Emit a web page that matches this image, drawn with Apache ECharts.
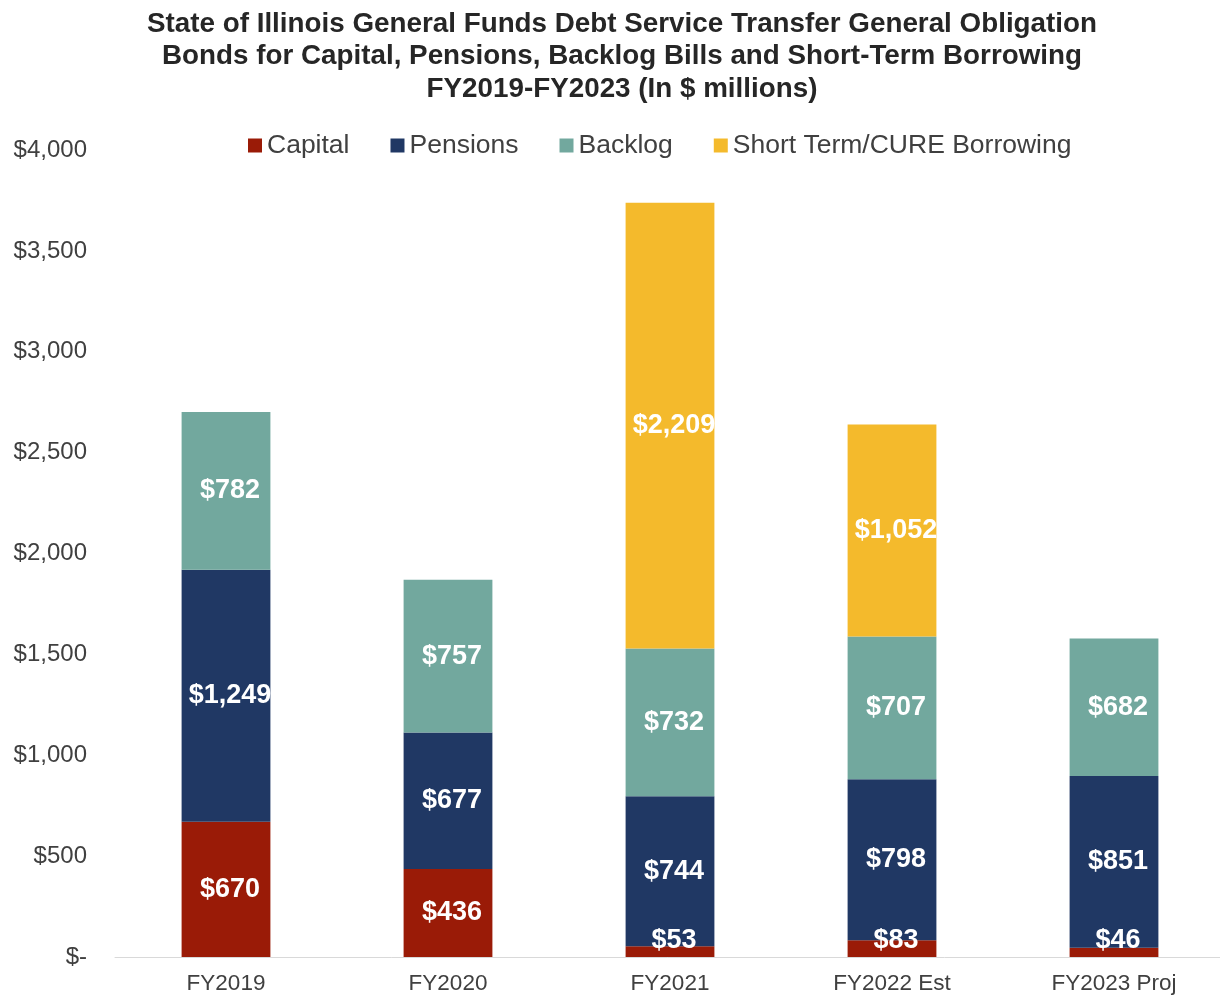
<!DOCTYPE html>
<html>
<head>
<meta charset="utf-8">
<script src="https://cdn.jsdelivr.net/npm/echarts@6/dist/echarts.min.js"></script>
<style>
html,body{margin:0;padding:0;background:#fff;}
#chart{width:1220px;height:996px;}
</style>
</head>
<body>
<div id="chart"></div>
<script>
const categories = ['FY2019', 'FY2020', 'FY2021', 'FY2022 Est', 'FY2023 Proj'];
const capital   = [670, 436, 53, 83, 46];
const pensions  = [1249, 677, 744, 798, 851];
const backlog   = [782, 757, 732, 707, 682];
const shortTerm = [null, null, 2209, 1052, null];
const yTicks = [0, 500, 1000, 1500, 2000, 2500, 3000, 3500, 4000];

const FONT = '"Liberation Sans", Arial, sans-serif';
const fmt = v => '$' + Number(v).toLocaleString('en-US');

function labelCfg(values, small) {
  return values.map(v => {
    if (v == null) return null;
    const item = { value: v };
    if (small && v < 150) {
      item.label = { position: 'insideBottom', distance: 3 };
    }
    return item;
  });
}

const baseLabel = {
  show: true,
  position: 'inside',
  color: '#ffffff',
  fontFamily: FONT,
  fontWeight: 'bold',
  fontSize: 27,
  offset: [4, 0],
  formatter: p => fmt(p.value)
};

const chart = echarts.init(document.getElementById('chart'), null, { renderer: 'canvas' });
chart.setOption({
  animation: false,
  backgroundColor: '#ffffff',
  title: {
    text: 'State of Illinois General Funds Debt Service Transfer General Obligation\nBonds for Capital, Pensions, Backlog Bills and Short-Term Borrowing\nFY2019-FY2023 (In $ millions)',
    left: 617,
    textAlign: 'center',
    top: 3,
    textStyle: {
      fontFamily: FONT,
      fontWeight: 'bold',
      fontSize: 27.8,
      lineHeight: 32.5,
      color: '#262626'
    }
  },
  legend: {
    top: 127,
    left: 243,
    itemWidth: 14,
    itemHeight: 14,
    itemGap: 41,
    icon: 'rect',
    textStyle: { fontFamily: FONT, fontSize: 26.5, color: '#404040' },
    data: ['Capital', 'Pensions', 'Backlog', 'Short Term/CURE Borrowing']
  },
  grid: { left: 115, width: 1110, top: 150, bottom: 39, containLabel: false, outerBoundsMode: 'none' },
  xAxis: {
    type: 'category',
    data: categories,
    axisLine: { lineStyle: { color: '#d9d9d9', width: 1 } },
    axisTick: { show: false },
    axisLabel: { fontFamily: FONT, fontSize: 22.5, color: '#404040', margin: 15 }
  },
  yAxis: {
    type: 'value',
    min: 0,
    max: 4000,
    interval: 500,
    splitLine: { show: false },
    axisLine: { show: false },
    axisTick: { show: false },
    axisLabel: {
      fontFamily: FONT, fontSize: 24, color: '#404040', margin: 28,
      customValues: yTicks,
      formatter: v => v === 0 ? '$-' : fmt(v)
    }
  },
  series: [
    { name: 'Capital', type: 'bar', stack: 'total', barWidth: '40%', data: labelCfg(capital, true),
      itemStyle: { color: '#9A1B07' }, label: baseLabel },
    { name: 'Pensions', type: 'bar', stack: 'total', data: labelCfg(pensions, false),
      itemStyle: { color: '#203864' }, label: baseLabel },
    { name: 'Backlog', type: 'bar', stack: 'total', data: labelCfg(backlog, false),
      itemStyle: { color: '#72A89E' }, label: baseLabel },
    { name: 'Short Term/CURE Borrowing', type: 'bar', stack: 'total', data: labelCfg(shortTerm, false),
      itemStyle: { color: '#F4BA2C' }, label: baseLabel }
  ]
});
</script>
</body>
</html>
